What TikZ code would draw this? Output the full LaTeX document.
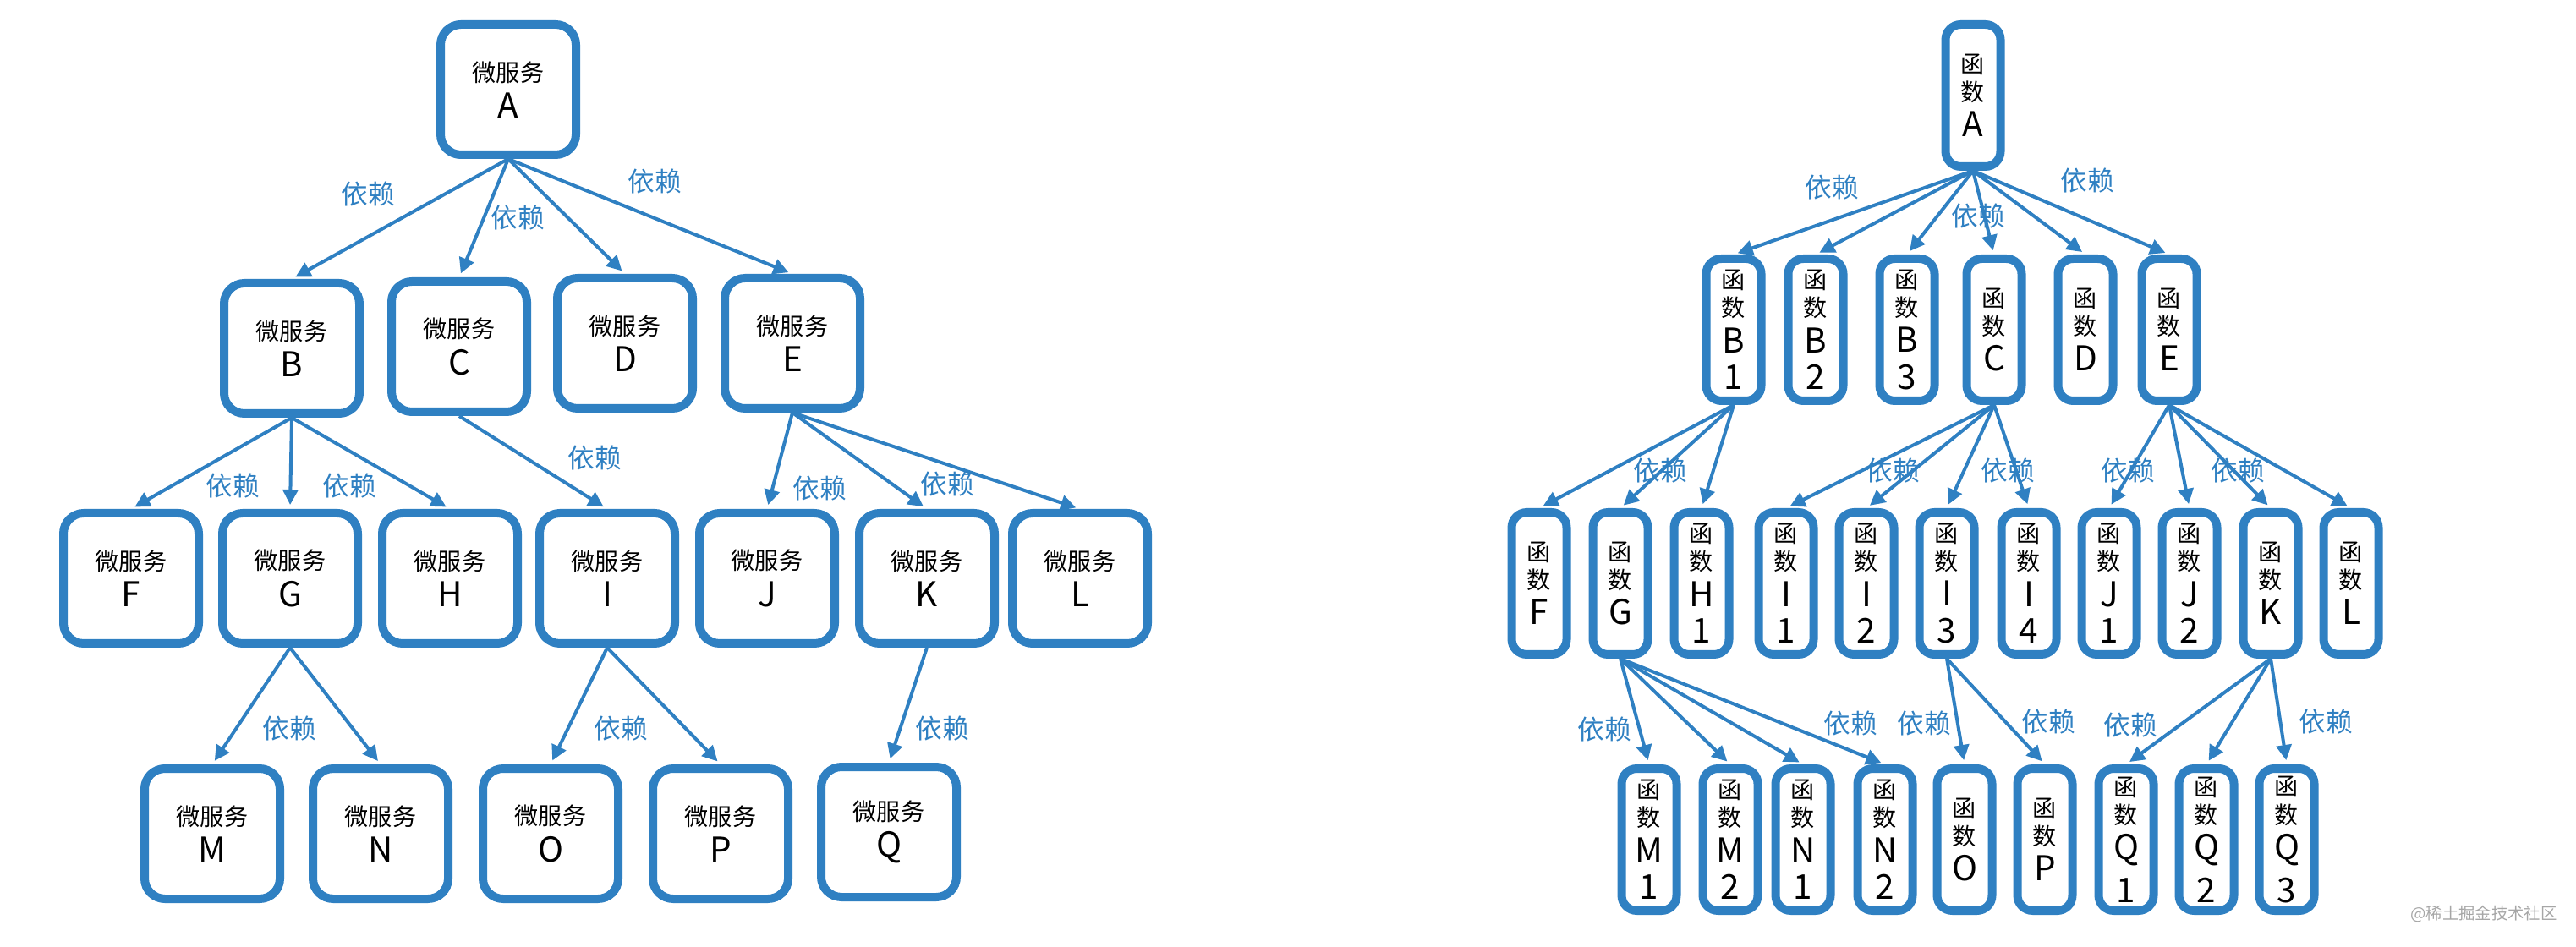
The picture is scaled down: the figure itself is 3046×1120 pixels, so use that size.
\documentclass[tikz,border=0pt]{standalone}
\usepackage{fontspec}
\setmainfont{Noto Sans CJK SC}
\usetikzlibrary{arrows.meta}
\definecolor{boxblue}{RGB}{47,128,194}
\newcommand{\lt}{\fontsize{11.5}{12.5}\selectfont}
\tikzset{
  svc/.style={draw=boxblue, line width=1mm, rounded corners=2.4mm, fill=white,
    minimum width=16mm, minimum height=15.4mm, inner sep=0pt, align=center,
    font=\fontsize{8}{9.4}\selectfont},
  fn/.style={draw=boxblue, line width=1mm, rounded corners=1.8mm, fill=white,
    minimum width=6.5mm, minimum height=16.8mm, inner sep=0pt, align=center,
    font=\fontsize{8}{9.4}\selectfont},
  dep/.style={boxblue, line width=0.4mm, shorten >=0.5mm,
    -{Triangle[length=1.8mm,width=1.8mm]}},
  deplabel/.style={text=boxblue, font=\fontsize{9}{9}\selectfont, inner sep=0pt}
}
\begin{document}
\begin{tikzpicture}[x=0.1mm,y=-0.1mm]
\useasboundingbox (0,0) rectangle (3046,1120);
% micro services
\node[svc] (svcA) at (601,106) {微服务\\[3pt]\lt A};
\node[svc] (svcB) at (345,412) {微服务\\[3pt]\lt B};
\node[svc] (svcC) at (543,410) {微服务\\[3pt]\lt C};
\node[svc] (svcD) at (739,406) {微服务\\[3pt]\lt D};
\node[svc] (svcE) at (937,406) {微服务\\[3pt]\lt E};
\node[svc] (svcF) at (155,684) {微服务\\[3pt]\lt F};
\node[svc] (svcG) at (343,684) {微服务\\[3pt]\lt G};
\node[svc] (svcH) at (532,684) {微服务\\[3pt]\lt H};
\node[svc] (svcI) at (718,684) {微服务\\[3pt]\lt I};
\node[svc] (svcJ) at (907,684) {微服务\\[3pt]\lt J};
\node[svc] (svcK) at (1096,684) {微服务\\[3pt]\lt K};
\node[svc] (svcL) at (1277,684) {微服务\\[3pt]\lt L};
\node[svc] (svcM) at (251,986) {微服务\\[3pt]\lt M};
\node[svc] (svcN) at (450,986) {微服务\\[3pt]\lt N};
\node[svc] (svcO) at (651,986) {微服务\\[3pt]\lt O};
\node[svc] (svcP) at (852,986) {微服务\\[3pt]\lt P};
\node[svc] (svcQ) at (1051,984) {微服务\\[3pt]\lt Q};
\draw[dep] (svcA.south) -- (svcB.north);
\draw[dep] (svcA.south) -- (svcC.north);
\draw[dep] (svcA.south) -- (svcD.north);
\draw[dep] (svcA.south) -- (svcE.north);
\draw[dep] (svcB.south) -- (svcF.north);
\draw[dep] (svcB.south) -- (svcG.north);
\draw[dep] (svcB.south) -- (svcH.north);
\draw[dep] (svcC.south) -- (svcI.north);
\draw[dep] (svcE.south) -- (svcJ.north);
\draw[dep] (svcE.south) -- (svcK.north);
\draw[dep] (svcE.south) -- (svcL.north);
\draw[dep] (svcG.south) -- (svcM.north);
\draw[dep] (svcG.south) -- (svcN.north);
\draw[dep] (svcI.south) -- (svcO.north);
\draw[dep] (svcI.south) -- (svcP.north);
\draw[dep] (svcK.south) -- (svcQ.north);
\node[deplabel] (depAB) at (435,230) {依赖};
\node[deplabel] (depAC) at (612,258) {依赖};
\node[deplabel] (depAE) at (774,215) {依赖};
\node[deplabel] (depBF) at (275,575) {依赖};
\node[deplabel] (depBH) at (413,575) {依赖};
\node[deplabel] (depCI) at (703,542) {依赖};
\node[deplabel] (depEJ) at (969,578) {依赖};
\node[deplabel] (depEK) at (1120,573) {依赖};
\node[deplabel] (depGM) at (342,862) {依赖};
\node[deplabel] (depIO) at (734,862) {依赖};
\node[deplabel] (depKQ) at (1114,862) {依赖};
% functions
\node[fn] (fnA) at (2333,113) {函\\数\\[2.6pt]\lt A};
\node[fn] (fnB1) at (2050,390) {函\\数\\[2.6pt]\lt B\\[3pt]\lt 1};
\node[fn] (fnB2) at (2147,390) {函\\数\\[2.6pt]\lt B\\[3pt]\lt 2};
\node[fn] (fnB3) at (2255,390) {函\\数\\[2.6pt]\lt B\\[3pt]\lt 3};
\node[fn] (fnC) at (2358,390) {函\\数\\[2.6pt]\lt C};
\node[fn] (fnD) at (2466,390) {函\\数\\[2.6pt]\lt D};
\node[fn] (fnE) at (2565,390) {函\\数\\[2.6pt]\lt E};
\node[fn] (fnF) at (1820,690) {函\\数\\[2.6pt]\lt F};
\node[fn] (fnG) at (1916,690) {函\\数\\[2.6pt]\lt G};
\node[fn] (fnH1) at (2012,690) {函\\数\\[2.6pt]\lt H\\[3pt]\lt 1};
\node[fn] (fnI1) at (2112,690) {函\\数\\[2.6pt]\lt I\\[3pt]\lt 1};
\node[fn] (fnI2) at (2207,690) {函\\数\\[2.6pt]\lt I\\[3pt]\lt 2};
\node[fn] (fnI3) at (2302,690) {函\\数\\[2.6pt]\lt I\\[3pt]\lt 3};
\node[fn] (fnI4) at (2399,690) {函\\数\\[2.6pt]\lt I\\[3pt]\lt 4};
\node[fn] (fnJ1) at (2494,690) {函\\数\\[2.6pt]\lt J\\[3pt]\lt 1};
\node[fn] (fnJ2) at (2589,690) {函\\数\\[2.6pt]\lt J\\[3pt]\lt 2};
\node[fn] (fnK) at (2685,690) {函\\数\\[2.6pt]\lt K};
\node[fn] (fnL) at (2780,690) {函\\数\\[2.6pt]\lt L};
\node[fn] (fnM1) at (1950,993) {函\\数\\[2.6pt]\lt M\\[3pt]\lt 1};
\node[fn] (fnM2) at (2046,993) {函\\数\\[2.6pt]\lt M\\[3pt]\lt 2};
\node[fn] (fnN1) at (2132,993) {函\\数\\[2.6pt]\lt N\\[3pt]\lt 1};
\node[fn] (fnN2) at (2229,993) {函\\数\\[2.6pt]\lt N\\[3pt]\lt 2};
\node[fn] (fnO) at (2323,993) {函\\数\\[2.6pt]\lt O};
\node[fn] (fnP) at (2418,993) {函\\数\\[2.6pt]\lt P};
\node[fn] (fnQ1) at (2514,993) {函\\数\\[2.6pt]\lt Q\\[3pt]\lt 1};
\node[fn] (fnQ2) at (2609,993) {函\\数\\[2.6pt]\lt Q\\[3pt]\lt 2};
\node[fn] (fnQ3) at (2704,993) {函\\数\\[2.6pt]\lt Q\\[3pt]\lt 3};
\draw[dep] (fnA.south) -- (fnB1.north);
\draw[dep] (fnA.south) -- (fnB2.north);
\draw[dep] (fnA.south) -- (fnB3.north);
\draw[dep] (fnA.south) -- (fnC.north);
\draw[dep] (fnA.south) -- (fnD.north);
\draw[dep] (fnA.south) -- (fnE.north);
\draw[dep] (fnB1.south) -- (fnF.north);
\draw[dep] (fnB1.south) -- (fnG.north);
\draw[dep] (fnB1.south) -- (fnH1.north);
\draw[dep] (fnC.south) -- (fnI1.north);
\draw[dep] (fnC.south) -- (fnI2.north);
\draw[dep] (fnC.south) -- (fnI3.north);
\draw[dep] (fnC.south) -- (fnI4.north);
\draw[dep] (fnE.south) -- (fnJ1.north);
\draw[dep] (fnE.south) -- (fnJ2.north);
\draw[dep] (fnE.south) -- (fnK.north);
\draw[dep] (fnE.south) -- (fnL.north);
\draw[dep] (fnG.south) -- (fnM1.north);
\draw[dep] (fnG.south) -- (fnM2.north);
\draw[dep] (fnG.south) -- (fnN1.north);
\draw[dep] (fnG.south) -- (fnN2.north);
\draw[dep] (fnI3.south) -- (fnO.north);
\draw[dep] (fnI3.south) -- (fnP.north);
\draw[dep] (fnK.south) -- (fnQ1.north);
\draw[dep] (fnK.south) -- (fnQ2.north);
\draw[dep] (fnK.south) -- (fnQ3.north);
\node[deplabel] (depAB1) at (2166,222) {依赖};
\node[deplabel] (depAC2) at (2339,256) {依赖};
\node[deplabel] (depAE2) at (2468,214) {依赖};
\node[deplabel] (depB1G) at (1963,557) {依赖};
\node[deplabel] (depCI1) at (2238,557) {依赖};
\node[deplabel] (depCI4) at (2374,557) {依赖};
\node[deplabel] (depEJ1) at (2516,557) {依赖};
\node[deplabel] (depEK2) at (2646,557) {依赖};
\node[deplabel] (depGM1) at (1897,863) {依赖};
\node[deplabel] (depGN2) at (2188,856) {依赖};
\node[deplabel] (depI3O) at (2275,856) {依赖};
\node[deplabel] (depI3P) at (2422,854) {依赖};
\node[deplabel] (depKQ1) at (2519,858) {依赖};
\node[deplabel] (depKQ3) at (2750,854) {依赖};
\node[text=black!35, font=\fontsize{5.5}{6}\selectfont, inner sep=0pt] (mark) at (2937,1081) {@稀土掘金技术社区};
\end{tikzpicture}
\end{document}
